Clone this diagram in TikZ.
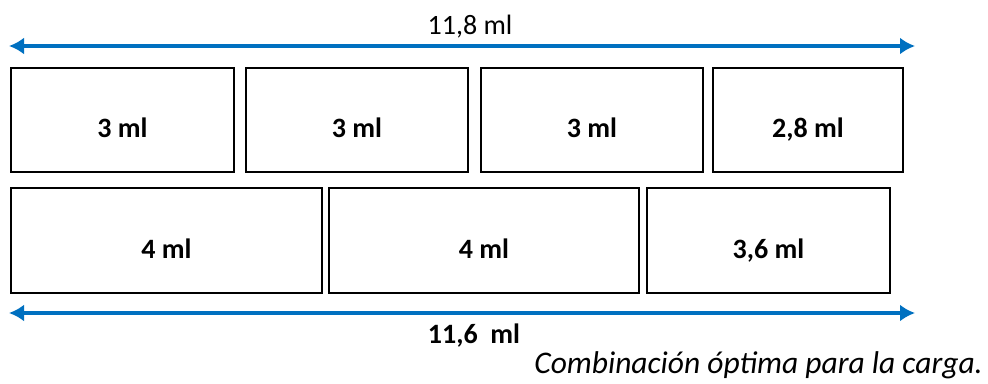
\documentclass[tikz,border=0pt]{standalone}
\usepackage{fontspec}
\setmainfont{Carlito}
\usetikzlibrary{arrows.meta}
\definecolor{arrowblue}{HTML}{0070C0}
\tikzset{
  piece/.style={draw=black, line width=1.8pt, fill=white, inner sep=0pt, anchor=north west},
  lbl/.style={font=\fontsize{28}{34}\selectfont\bfseries, anchor=base, inner sep=0pt},
  dimlbl/.style={font=\fontsize{28}{34}\selectfont, anchor=base, inner sep=0pt},
  dimarrow/.style={draw=arrowblue, line width=4.5pt, {Latex[length=15pt,width=17pt]}-{Latex[length=15pt,width=17pt]}, shorten <=0pt, shorten >=0pt}
}
\begin{document}
\begin{tikzpicture}[x=1pt,y=-1pt]
\useasboundingbox (0,0) rectangle (988,383);
% top dimension
\coordinate (ta) at (9,46);
\coordinate (tb) at (915,46);
\draw[dimarrow] (ta) -- (tb);
\node[dimlbl] (toplbl) at (470,34) {11,8 ml};
% top row
\node[piece, minimum width=223pt, minimum height=104pt] (a1) at (10,67) {};
\node[piece, minimum width=222pt, minimum height=104pt] (a2) at (245,67) {};
\node[piece, minimum width=222pt, minimum height=104pt] (a3) at (480,67) {};
\node[piece, minimum width=190pt, minimum height=104pt] (a4) at (712,67) {};
\node[lbl] (la1) at ([yshift=-18pt]a1.center) {3 ml};
\node[lbl] (la2) at ([yshift=-18pt]a2.center) {3 ml};
\node[lbl] (la3) at ([yshift=-18pt]a3.center) {3 ml};
\node[lbl] (la4) at ([yshift=-18pt]a4.center) {2,8 ml};
% bottom row
\node[piece, minimum width=311pt, minimum height=105pt] (b1) at (10,187) {};
\node[piece, minimum width=310pt, minimum height=105pt] (b2) at (328,187) {};
\node[piece, minimum width=243pt, minimum height=105pt] (b3) at (646,187) {};
\node[lbl] (lb1) at ([yshift=-18pt]b1.center) {4 ml};
\node[lbl] (lb2) at ([yshift=-18pt]b2.center) {4 ml};
\node[lbl] (lb3) at ([yshift=-18pt]b3.center) {3,6 ml};
% bottom dimension
\coordinate (ba) at (9,313);
\coordinate (bb) at (915,313);
\draw[dimarrow] (ba) -- (bb);
\node[lbl] (botlbl) at (474,343) {11,6\ \ ml};
% caption
\node[dimlbl, font=\fontsize{31.5}{38}\selectfont\itshape, anchor=base east] (cap) at (983,373) {Combinación óptima para la carga.};
\end{tikzpicture}
\end{document}
